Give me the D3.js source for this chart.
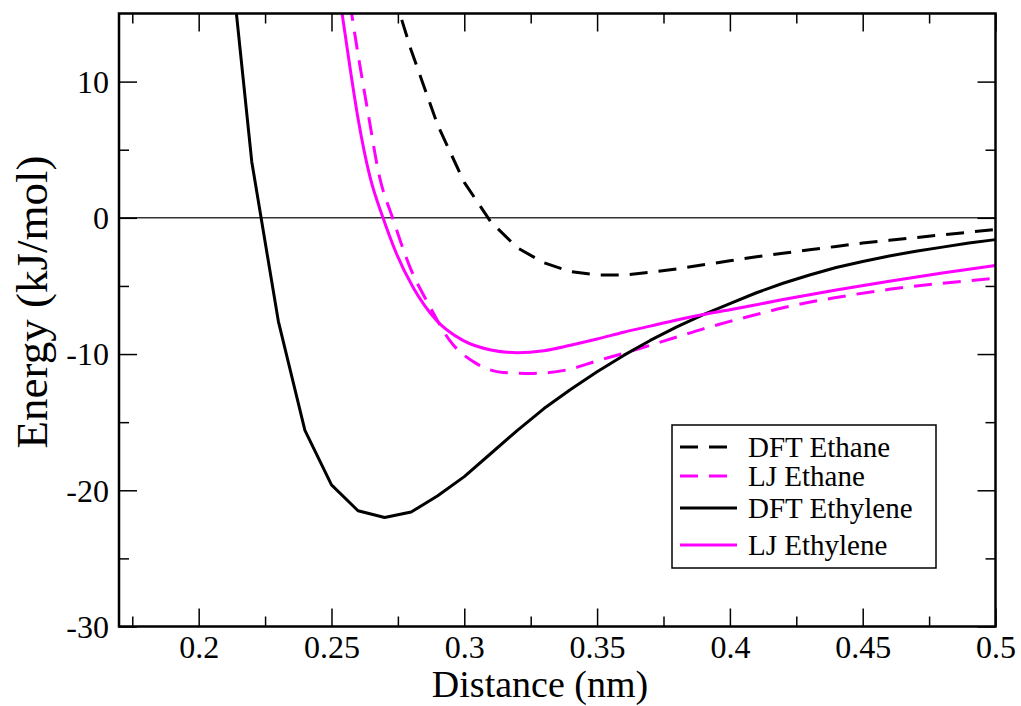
<!DOCTYPE html>
<meta charset="utf-8">
<style>
  body { margin: 0; background: #fff; }
  svg text { font-family: 'Liberation Serif', 'Times New Roman', serif; }
  .tick text { font-size: 32px; fill: #000; font-family: 'Liberation Serif', 'Times New Roman', serif; }
  .domain { display: none; }
  .tick line { stroke: #000; stroke-width: 1.5px; }
</style>
<script src="https://d3js.org/d3.v7.min.js"></script>
<div id="chart"></div>
<script>
// distances (nm) and energies (kJ/mol)
const distDftEthylene = [0.21, 0.22, 0.23, 0.24, 0.25, 0.26, 0.27, 0.28, 0.29, 0.30, 0.31, 0.32, 0.33, 0.34, 0.35, 0.36, 0.37, 0.38, 0.39, 0.40, 0.41, 0.42, 0.43, 0.44, 0.45, 0.46, 0.47, 0.48, 0.49, 0.50];
const dftEthylene = [22.9, 4.1, -7.6, -15.6, -19.6, -21.5, -22.0, -21.6, -20.4, -19.0, -17.3, -15.6, -14.0, -12.6, -11.3, -10.1, -9.0, -8.0, -7.1, -6.3, -5.5, -4.8, -4.2, -3.65, -3.2, -2.8, -2.45, -2.15, -1.85, -1.6];

const distDftEthane = [0.27, 0.28, 0.29, 0.30, 0.31, 0.32, 0.33, 0.34, 0.35, 0.36, 0.37, 0.38, 0.39, 0.40, 0.41, 0.42, 0.43, 0.44, 0.45, 0.46, 0.47, 0.48, 0.49, 0.50];
const dftEthane = [18.6, 12.3, 6.8, 2.6, -0.3, -2.2, -3.3, -3.95, -4.2, -4.2, -4.0, -3.75, -3.45, -3.15, -2.85, -2.6, -2.35, -2.1, -1.85, -1.65, -1.45, -1.25, -1.05, -0.85];

const distLjEthylene = [0.250, 0.254, 0.257, 0.260, 0.2645, 0.2694, 0.2744, 0.2807, 0.2894, 0.2995, 0.31, 0.32, 0.33, 0.34, 0.35, 0.36, 0.37, 0.38, 0.39, 0.40, 0.42, 0.44, 0.46, 0.48, 0.50];
const ljEthylene = [20.5, 15.0, 11.0, 7.3, 3.0, 0, -2.6, -5.1, -7.5, -9.0, -9.7, -9.9, -9.75, -9.35, -8.9, -8.4, -7.95, -7.5, -7.1, -6.75, -6.0, -5.3, -4.65, -4.05, -3.5];

const distLjEthane = [0.254, 0.2576, 0.2606, 0.2636, 0.2681, 0.273, 0.2795, 0.287, 0.2945, 0.3046, 0.3146, 0.3259, 0.3384, 0.35, 0.36, 0.37, 0.38, 0.39, 0.40, 0.41, 0.42, 0.44, 0.46, 0.48, 0.50];
const ljEthane = [20.0, 15.0, 11.3, 7.9, 3.0, 0, -3.6, -6.5, -9.0, -10.7, -11.35, -11.42, -11.17, -10.5, -9.95, -9.35, -8.75, -8.15, -7.6, -7.1, -6.6, -5.85, -5.25, -4.8, -4.44];

const xMajor = [0.2, 0.25, 0.3, 0.35, 0.4, 0.45, 0.5];
const xMinor = [0.175, 0.225, 0.275, 0.325, 0.375, 0.425, 0.475];
const yMajor = [-30, -20, -10, 0, 10];
const yMinor = [-25, -15, -5, 5];

const seriesNames = ["DFT Ethane", "LJ Ethane", "DFT Ethylene", "LJ Ethylene"];

const FONT = "'Liberation Serif', 'Times New Roman', serif";
const W = 1021, H = 706;
const margin = {top: 13.5, right: 25.5, bottom: 79.5, left: 119};
const width = W - margin.left - margin.right,
      height = H - margin.top - margin.bottom;

const svg = d3.select("#chart").append("svg")
    .attr("width", W).attr("height", H)
    .attr("font-family", FONT);
const g = svg.append("g")
    .attr("transform", `translate(${margin.left},${margin.top})`);

const x = d3.scaleLinear().domain([0.17, 0.5]).range([0, width]);
const y = d3.scaleLinear().domain([-30, 15]).range([height, 0]);

g.append("clipPath").attr("id", "clip")
  .append("rect").attr("width", width).attr("height", height);

// zero line
g.append("line")
    .attr("x1", 0).attr("x2", width)
    .attr("y1", y(0)).attr("y2", y(0))
    .attr("stroke", "#333").attr("stroke-width", 1.5);

// axes, ticks pointing inward
const fmtX = d => String(+d.toFixed(2));
const fmtY = d => String(d);   // plain hyphen minus like the original
g.append("g").attr("class", "x")
    .attr("transform", `translate(0,${height})`)
    .call(d3.axisBottom(x).tickValues(xMajor).tickSize(-18).tickFormat(fmtX))
    .call(a => a.attr("font-family", FONT).selectAll("text").attr("y", 9));
g.append("g").attr("transform", `translate(0,${height})`)
    .call(d3.axisBottom(x).tickValues(xMinor).tickSize(-10).tickFormat(""));
g.append("g")
    .call(d3.axisTop(x).tickValues(xMajor).tickSize(-18).tickFormat(""));
g.append("g")
    .call(d3.axisTop(x).tickValues(xMinor).tickSize(-10).tickFormat(""));

g.append("g").attr("class", "y")
    .call(d3.axisLeft(y).tickValues(yMajor).tickSize(-18).tickFormat(fmtY))
    .call(a => a.attr("font-family", FONT).selectAll("text").attr("x", -10).attr("dy", "0.34em"));
g.append("g")
    .call(d3.axisLeft(y).tickValues(yMinor).tickSize(-10).tickFormat(""));
g.append("g").attr("transform", `translate(${width},0)`)
    .call(d3.axisRight(y).tickValues(yMajor).tickSize(-18).tickFormat(""));
g.append("g").attr("transform", `translate(${width},0)`)
    .call(d3.axisRight(y).tickValues(yMinor).tickSize(-10).tickFormat(""));

// curves
const series = [
  {name: seriesNames[0], xs: distDftEthane, ys: dftEthane, color: "#000", dash: "18,11", curve: d3.curveLinear},
  {name: seriesNames[1], xs: distLjEthane, ys: ljEthane, color: "#f0f", dash: "18,11", curve: d3.curveMonotoneX},
  {name: seriesNames[2], xs: distDftEthylene, ys: dftEthylene, color: "#000", dash: null, curve: d3.curveLinear},
  {name: seriesNames[3], xs: distLjEthylene, ys: ljEthylene, color: "#f0f", dash: null, curve: d3.curveMonotoneX}
];

const plot = g.append("g").attr("clip-path", "url(#clip)");
series.forEach(s => {
  const pts = s.xs.map((d, i) => [d, s.ys[i]]);
  plot.append("path")
      .datum(pts)
      .attr("fill", "none")
      .attr("stroke", s.color)
      .attr("stroke-width", 3)
      .attr("stroke-dasharray", s.dash)
      .attr("stroke-linejoin", "round")
      .attr("d", d3.line().curve(s.curve).x(d => x(d[0])).y(d => y(d[1])));
});

// frame
g.append("rect")
    .attr("width", width).attr("height", height)
    .attr("fill", "none").attr("stroke", "#000").attr("stroke-width", 2.5);

// legend
const legX = 672 - margin.left, legY = 425 - margin.top;
const legend = g.append("g").attr("transform", `translate(${legX},${legY})`);
legend.append("rect")
    .attr("width", 264).attr("height", 143)
    .attr("fill", "#fff").attr("stroke", "#000").attr("stroke-width", 1.5);
const rowY = [22, 51, 83, 120];
series.forEach((s, i) => {
  legend.append("line")
      .attr("x1", 8).attr("x2", 65)
      .attr("y1", rowY[i]).attr("y2", rowY[i])
      .attr("stroke", s.color).attr("stroke-width", 3)
      .attr("stroke-dasharray", s.dash);
  legend.append("text")
      .attr("x", 76).attr("y", rowY[i] + 10)
      .attr("font-family", FONT)
      .style("font-size", "29px")
      .text(s.name);
});

// axis titles
svg.append("text")
    .attr("x", 540).attr("y", 697)
    .attr("text-anchor", "middle")
    .attr("font-family", FONT)
    .style("font-size", "38px")
    .text("Distance (nm)");
svg.append("text")
    .attr("transform", `translate(47,302) rotate(-90)`)
    .attr("text-anchor", "middle")
    .attr("font-family", FONT)
    .style("font-size", "45px")
    .text("Energy (kJ/mol)");
</script>
